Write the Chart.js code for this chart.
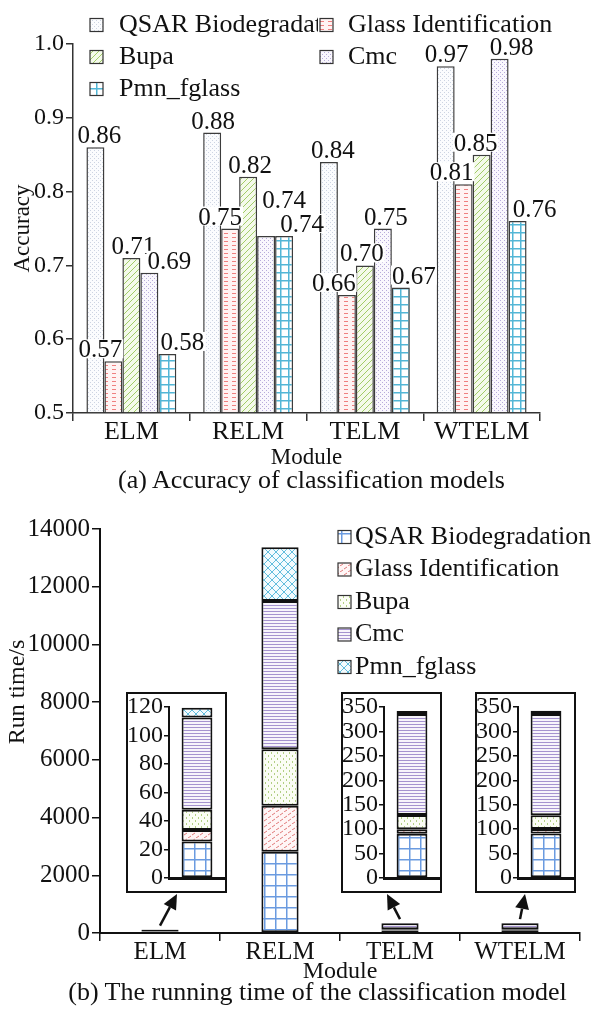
<!DOCTYPE html>
<html>
<head>
<meta charset="utf-8">
<script src="https://cdn.jsdelivr.net/npm/chart.js@4.4.0/dist/chart.umd.min.js"></script>
<style>
  body { margin: 0; background: #fff; }
  #page { position: relative; width: 595px; height: 1018px; overflow: hidden; font-family: 'Liberation Serif', 'Times New Roman', serif; color: #111; }
  .chartBox { position: absolute; left: 0; width: 595px; }
  .inset { position: absolute; box-sizing: border-box; border: 2px solid #111; background: #fff; width: 101px; height: 201px; top: 692px; }
  .inset div { position: relative; width: 97px; height: 197px; }
  .caption { position: absolute; width: 595px; text-align: center; font-size: 26px; line-height: 26px; white-space: nowrap; }
</style>
</head>
<body>
<div id="page">
  <div class="chartBox" style="top:0;height:500px"><canvas id="accChart"></canvas></div>
  <div class="chartBox" style="top:500px;height:518px"><canvas id="timeChart"></canvas></div>
  <div class="inset" style="left:126px"><div><canvas id="insetELM"></canvas></div></div>
  <div class="inset" style="left:341px"><div><canvas id="insetTELM"></canvas></div></div>
  <div class="inset" style="left:475px"><div><canvas id="insetWTELM"></canvas></div></div>
  <div class="caption" style="left:14px;top:467px">(a) Accuracy of classification models</div>
  <div class="caption" style="left:20px;top:979px">(b) The running time of the classification model</div>
</div>
<script>
// ---- data ----
const categories = ['ELM', 'RELM', 'TELM', 'WTELM'];
const seriesNames = ['QSAR Biodegradation', 'Glass Identification', 'Bupa', 'Cmc', 'Pmn_fglass'];

// (a) accuracy
const accQsar = [0.86, 0.88, 0.84, 0.97];
const accGlass = [0.57, 0.75, 0.66, 0.81];
const accBupa = [0.71, 0.82, 0.70, 0.85];
const accCmc = [0.69, 0.74, 0.75, 0.98];
const accPmn = [0.58, 0.74, 0.67, 0.76];
const accTicks = [0.5, 0.6, 0.7, 0.8, 0.9, 1.0];

// (b) run time in seconds
const timeQsar = [25.6, 2817, 90.4, 91.2];
const timeGlass = [8.1, 1594, 9.6, 9.3];
const timeBupa = [14.2, 1954, 28.8, 27.9];
const timeCmc = [64.7, 5139, 206.8, 207.5];
const timePmn = [6.8, 1860, 6.4, 6.4];
const timeTicks = [0, 2000, 4000, 6000, 8000, 10000, 12000, 14000];
const insetTicksSmall = [0, 20, 40, 60, 80, 100, 120];
const insetTicksLarge = [0, 50, 100, 150, 200, 250, 300, 350];

const accSeries = [accQsar, accGlass, accBupa, accCmc, accPmn];
const timeSeries = [timeQsar, timeGlass, timeBupa, timeCmc, timePmn];

// label nudges (px) so the value labels don't collide, as in the figure
const labelNudge = [
  [[4, 0], [1, 0], [4, 0], [1, 0]],
  [[-13, 0], [-10, 0], [-13, 0], [-12, 0]],
  [[2, 0], [2, 0], [-3, 0], [-6, 0]],
  [[20, 0], [18, -24], [3, 0], [12, 0]],
  [[15, 0], [18, 0], [13, 0], [17, 0]]
];

Chart.defaults.font.family = "'Liberation Serif', 'Times New Roman', serif";
Chart.defaults.color = '#111';
Chart.defaults.animation = false;

// ---- hatch patterns ----
function pattern(w, h, bg, draw) {
  const c = document.createElement('canvas');
  c.width = w; c.height = h;
  const g = c.getContext('2d');
  g.fillStyle = bg;
  g.fillRect(0, 0, w, h);
  draw(g);
  return g.createPattern(c, 'repeat');
}

const accFills = [
  pattern(4, 4, '#fbfcfe', g => { g.fillStyle = '#cdd4e2'; g.fillRect(0, 0, 1, 1); g.fillRect(2, 2, 1, 1); }),
  pattern(8, 4, '#fff3f3', g => { g.fillStyle = '#f08080'; g.fillRect(0, 1, 4, 1); }),
  pattern(6, 6, '#f4faea', g => {
    g.strokeStyle = '#a2cc68'; g.lineWidth = 1;
    g.beginPath(); g.moveTo(-1, 7); g.lineTo(7, -1); g.moveTo(-1, 1); g.lineTo(1, -1); g.moveTo(5, 7); g.lineTo(7, 5); g.stroke();
  }),
  pattern(4, 4, '#f9f7fd', g => { g.fillStyle = '#b7abda'; g.fillRect(0, 0, 1, 1); g.fillRect(2, 2, 1, 1); }),
  pattern(8, 8, '#fff', g => { g.fillStyle = '#52b6d6'; g.fillRect(0, 0, 8, 1.5); g.fillRect(0, 0, 1.5, 8); })
];

const timeFills = [
  pattern(11, 11, '#fff', g => { g.fillStyle = '#6b9be0'; g.fillRect(0, 0, 11, 1.5); g.fillRect(0, 0, 1.5, 11); }),
  pattern(8, 6, '#fff6f6', g => {
    g.strokeStyle = '#e07b7b'; g.lineWidth = 1;
    g.beginPath(); g.moveTo(0, 3); g.lineTo(3, 1); g.moveTo(4, 6); g.lineTo(7, 4); g.stroke();
  }),
  pattern(6, 6, '#fbfdf5', g => { g.fillStyle = '#b2cf84'; g.fillRect(1, 0, 1, 2); g.fillRect(4, 3, 1, 2); }),
  pattern(4, 3, '#f7f4fb', g => { g.fillStyle = '#a593cf'; g.fillRect(0, 0, 4, 1); }),
  pattern(8, 8, '#f3fbfe', g => {
    g.strokeStyle = '#62bddd'; g.lineWidth = 1;
    g.beginPath();
    g.moveTo(-1, 9); g.lineTo(9, -1);
    g.moveTo(-1, -1); g.lineTo(9, 9);
    g.stroke();
  })
];

// ---- plugins ----
const accLabels = {
  id: 'accLabels',
  afterDatasetsDraw(chart) {
    const ctx = chart.ctx;
    ctx.save();
    ctx.font = "25px 'Liberation Serif'";
    ctx.textAlign = 'center';
    ctx.textBaseline = 'alphabetic';
    chart.data.datasets.forEach((ds, di) => {
      chart.getDatasetMeta(di).data.forEach((bar, i) => {
        const txt = ds.data[i].toFixed(2);
        const nudge = labelNudge[di][i];
        const x = bar.x + nudge[0];
        const y = bar.y - 4 + nudge[1];
        const w = ctx.measureText(txt).width;
        ctx.fillStyle = '#fff';
        ctx.fillRect(x - w / 2 - 1, y - 18, w + 2, 19);
        ctx.fillStyle = '#111';
        ctx.fillText(txt, x, y);
      });
    });
    ctx.restore();
  }
};

function drawLegendItem(ctx, fill, x, y, text, textX, clipRight) {
  ctx.save();
  ctx.fillStyle = fill;
  ctx.fillRect(x, y - 6.5, 13, 13);
  ctx.strokeStyle = '#333';
  ctx.lineWidth = 1.2;
  ctx.strokeRect(x, y - 6.5, 13, 13);
  if (clipRight) {
    ctx.beginPath();
    ctx.rect(0, 0, clipRight, 2000);
    ctx.clip();
  }
  ctx.fillStyle = '#111';
  ctx.fillText(text, textX, y);
  ctx.restore();
}

const accLegend = {
  id: 'accLegend',
  afterDraw(chart) {
    const ctx = chart.ctx;
    const spots = [[90, 25, 119, 318], [320, 25, 348, 0], [90, 57, 119, 0], [320, 57, 348, 0], [90, 89, 119, 0]];
    ctx.save();
    ctx.font = "26px 'Liberation Serif'";
    ctx.textBaseline = 'middle';
    ctx.textAlign = 'left';
    chart.data.datasets.forEach((ds, i) => {
      const [x, y, tx, clip] = spots[i];
      drawLegendItem(ctx, ds.backgroundColor, x, y, ds.label, tx, clip);
    });
    ctx.restore();
  }
};

const timeLegend = {
  id: 'timeLegend',
  afterDraw(chart) {
    const ctx = chart.ctx;
    ctx.save();
    ctx.font = "26px 'Liberation Serif'";
    ctx.textBaseline = 'middle';
    ctx.textAlign = 'left';
    chart.data.datasets.forEach((ds, i) => {
      drawLegendItem(ctx, ds.backgroundColor, 338, 37 + i * 32.5, ds.label, 355, 0);
    });
    // y axis title, placed where the figure has it
    ctx.translate(18, 192);
    ctx.rotate(-Math.PI / 2);
    ctx.textAlign = 'center';
    ctx.fillStyle = '#111';
    ctx.font = "24px 'Liberation Serif'";
    ctx.fillText('Run time/s', 0, 0);
    ctx.restore();
  }
};

// zoom-in boxes: page position of each box and where its arrow lands
const insetBoxes = [
  { id: 'insetELM', cat: 0, left: 126, tipX: 177, max: 120, ticks: insetTicksSmall },
  { id: 'insetTELM', cat: 2, left: 341, tipX: 387, max: 350, ticks: insetTicksLarge },
  { id: 'insetWTELM', cat: 3, left: 475, tipX: 525, max: 350, ticks: insetTicksLarge }
];
const insetTop = 692, insetHeight = 201, timeCanvasTop = 500;

const insetArrows = {
  id: 'insetArrows',
  afterDatasetsDraw(chart) {
    const ctx = chart.ctx;
    const topMeta = chart.getDatasetMeta(chart.data.datasets.length - 1);
    ctx.save();
    ctx.strokeStyle = '#111';
    ctx.fillStyle = '#111';
    ctx.lineWidth = 2.5;
    insetBoxes.forEach(b => {
      const bar = topMeta.data[b.cat];
      const x0 = bar.x, y0 = bar.y - 4;
      const x1 = b.tipX, y1 = insetTop + insetHeight + 1 - timeCanvasTop;
      const ang = Math.atan2(y1 - y0, x1 - x0);
      const head = 15, half = 7;
      const bx = x1 - head * Math.cos(ang), by = y1 - head * Math.sin(ang);
      ctx.beginPath();
      ctx.moveTo(x0, y0);
      ctx.lineTo(bx, by);
      ctx.stroke();
      ctx.beginPath();
      ctx.moveTo(x1, y1);
      ctx.lineTo(bx + half * Math.sin(ang), by - half * Math.cos(ang));
      ctx.lineTo(bx - half * Math.sin(ang), by + half * Math.cos(ang));
      ctx.closePath();
      ctx.fill();
    });
    ctx.restore();
  }
};

// ---- (a) accuracy chart ----
new Chart(document.getElementById('accChart'), {
  type: 'bar',
  data: {
    labels: categories,
    datasets: accSeries.map((values, i) => ({
      label: seriesNames[i],
      data: values,
      backgroundColor: accFills[i],
      borderColor: '#3c3c3c',
      borderWidth: 1.5,
      base: 0.5
    }))
  },
  options: {
    responsive: true,
    maintainAspectRatio: false,
    barPercentage: 1,
    categoryPercentage: 0.77,
    layout: { padding: { top: 44, right: 55, left: 0, bottom: 0 } },
    plugins: { legend: { display: false }, tooltip: { enabled: false } },
    scales: {
      x: {
        grid: { drawOnChartArea: false, tickLength: 8, color: '#333', lineWidth: 1.5 },
        border: { color: '#333', width: 1.5 },
        ticks: { font: { size: 26 }, padding: -4 },
        title: { display: true, text: 'Module', font: { size: 23 }, padding: { top: 0, bottom: 28 } },
        afterFit: s => { s.height = 87; }
      },
      y: {
        min: 0.5,
        max: 1.0,
        afterBuildTicks: s => { s.ticks = accTicks.map(v => ({ value: v })); },
        ticks: { font: { size: 24 }, padding: 2, autoSkip: false, callback: v => v.toFixed(1) },
        grid: { drawOnChartArea: false, tickLength: 7, color: '#333', lineWidth: 1.5 },
        border: { color: '#333', width: 1.5 },
        title: { display: true, text: 'Accuracy', font: { size: 23 }, padding: { top: 9, bottom: 0 } },
        afterFit: s => { s.width = 73; }
      }
    }
  },
  plugins: [accLabels, accLegend]
});

// ---- (b) run time chart ----
new Chart(document.getElementById('timeChart'), {
  type: 'bar',
  data: {
    labels: categories,
    datasets: timeSeries.map((values, i) => ({
      label: seriesNames[i],
      data: values,
      backgroundColor: timeFills[i],
      borderColor: '#111',
      borderWidth: 2,
      borderSkipped: false
    }))
  },
  options: {
    responsive: true,
    maintainAspectRatio: false,
    barPercentage: 0.31,
    categoryPercentage: 1,
    layout: { padding: { top: 29, right: 15, left: 0, bottom: 0 } },
    plugins: { legend: { display: false }, tooltip: { enabled: false } },
    scales: {
      x: {
        stacked: true,
        grid: { drawOnChartArea: false, tickLength: 8, color: '#111', lineWidth: 1.5 },
        border: { color: '#111', width: 2 },
        ticks: { font: { size: 25 }, padding: -4 },
        title: { display: true, text: 'Module', font: { size: 24 }, padding: { top: 0, bottom: 32 } },
        afterFit: s => { s.height = 85; }
      },
      y: {
        stacked: true,
        min: 0,
        max: 14000,
        afterBuildTicks: s => { s.ticks = timeTicks.map(v => ({ value: v })); },
        ticks: { font: { size: 25 }, padding: 2, autoSkip: false, callback: v => String(v) },
        grid: { drawOnChartArea: false, tickLength: 8, color: '#111', lineWidth: 1.5 },
        border: { color: '#111', width: 2 },
        afterFit: s => { s.width = 100; }
      }
    }
  },
  plugins: [timeLegend, insetArrows]
});

// ---- zoomed insets ----
insetBoxes.forEach(b => {
  new Chart(document.getElementById(b.id), {
    type: 'bar',
    data: {
      labels: [categories[b.cat]],
      datasets: timeSeries.map((values, i) => ({
        label: seriesNames[i],
        data: [values[b.cat]],
        backgroundColor: timeFills[i],
        borderColor: '#111',
        borderWidth: 2,
        borderSkipped: false
      }))
    },
    options: {
      responsive: true,
      maintainAspectRatio: false,
      barPercentage: 0.55,
      categoryPercentage: 1,
      layout: { padding: 0 },
      plugins: { legend: { display: false }, tooltip: { enabled: false } },
      scales: {
        x: {
          stacked: true,
          ticks: { display: false },
          grid: { display: false },
          border: { color: '#111', width: 3 },
          afterFit: s => { s.height = 5; }
        },
        y: {
          stacked: true,
          min: 0,
          max: b.max,
          afterBuildTicks: s => { s.ticks = b.ticks.map(v => ({ value: v })); },
          ticks: { font: { size: 24, lineHeight: 1 }, padding: 1, autoSkip: false, callback: v => String(v) },
          grid: { drawOnChartArea: false, tickLength: 5, color: '#111', lineWidth: 1.5 },
          border: { color: '#111', width: 2 },
          afterFit: s => { s.width = 41; }
        }
      }
    }
  });
});
</script>
</body>
</html>
